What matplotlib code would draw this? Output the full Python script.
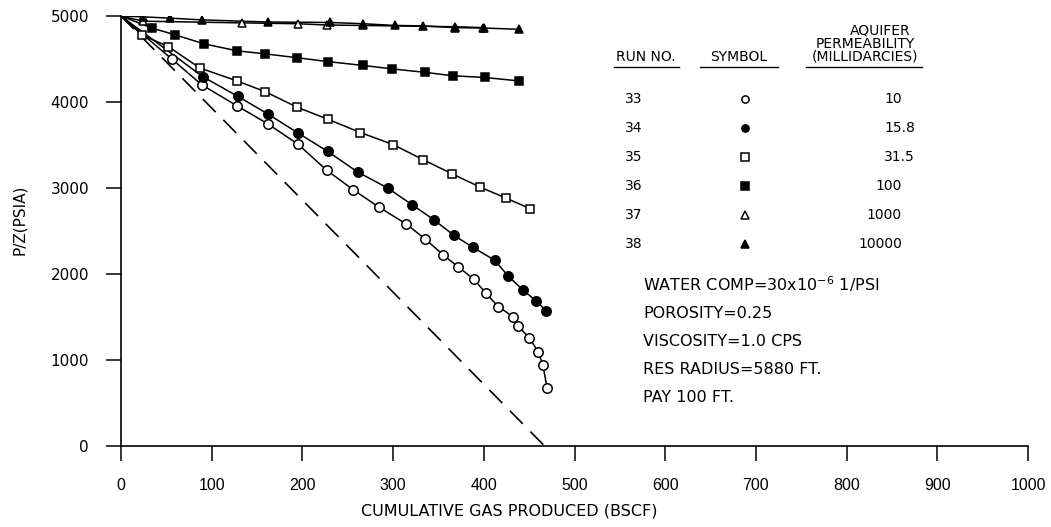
import matplotlib
matplotlib.use("Agg")
import matplotlib.pyplot as plt
from matplotlib.lines import Line2D

# digitised P/Z vs cumulative gas produced, one pair of lists per run
gp_33 = [0, 56, 89, 128, 162, 195, 227, 256, 284, 314, 335, 355, 372, 389, 402, 416, 432, 438, 450, 460, 465, 470]
pz_33 = [5000, 4500, 4200, 3955, 3745, 3510, 3205, 2980, 2780, 2585, 2410, 2225, 2080, 1940, 1780, 1620, 1505, 1390, 1260, 1095, 945, 670]

gp_34 = [0, 90, 129, 162, 195, 228, 261, 294, 321, 345, 367, 388, 412, 427, 443, 458, 469]
pz_34 = [5000, 4295, 4065, 3860, 3640, 3425, 3185, 3000, 2805, 2630, 2450, 2310, 2160, 1975, 1815, 1685, 1570]

gp_35 = [0, 23, 52, 87, 128, 159, 194, 228, 264, 300, 333, 365, 396, 424, 451]
pz_35 = [5000, 4780, 4645, 4395, 4245, 4120, 3940, 3800, 3645, 3505, 3330, 3165, 3010, 2885, 2760]

gp_36 = [0, 34, 60, 92, 128, 159, 194, 228, 267, 299, 335, 366, 401, 439]
pz_36 = [5000, 4860, 4780, 4675, 4595, 4560, 4515, 4470, 4425, 4385, 4345, 4305, 4285, 4245]

gp_37 = [0, 24, 133, 195, 227, 267, 368, 399]
pz_37 = [5000, 4940, 4920, 4910, 4895, 4890, 4875, 4865]

gp_38 = [0, 24, 54, 89, 162, 230, 267, 302, 333, 368, 400, 439]
pz_38 = [5000, 4990, 4975, 4955, 4930, 4925, 4910, 4890, 4885, 4865, 4860, 4845]

# volumetric (no water drive) line
gp_ideal = [0, 467]
pz_ideal = [5000, 0]

run_no = ["33", "34", "35", "36", "37", "38"]
perm = ["10", "15.8", "31.5", "100", "1000", "10000"]
notes = ["WATER COMP=30x10$^{-6}$ 1/PSI", "POROSITY=0.25", "VISCOSITY=1.0 CPS",
         "RES RADIUS=5880 FT.", "PAY 100 FT."]

x_ticks = [0, 100, 200, 300, 400, 500, 600, 700, 800, 900, 1000]
y_ticks = [0, 1000, 2000, 3000, 4000, 5000]

W, H = 1051, 527
fig = plt.figure(figsize=(W / 100, H / 100), dpi=100)
ax = fig.add_axes([121 / W, 1 - 446 / H, (1028 - 121) / W, (446 - 16) / H])

def fx(px):
    return px / W

def fy(py):
    return 1 - py / H

lw = 1.1
ax.plot(gp_ideal, pz_ideal, color="black", lw=1.2, dashes=(11, 6.5))

# (gp, pz, marker, filled)
runs = [
    (gp_33, pz_33, "o", False),
    (gp_34, pz_34, "o", True),
    (gp_35, pz_35, "s", False),
    (gp_36, pz_36, "s", True),
    (gp_37, pz_37, "^", False),
    (gp_38, pz_38, "^", True),
]
for gp, pz, mk, filled in runs:
    ax.plot(gp, pz, color="black", lw=lw, zorder=2)
    ms = 6.8 if mk == "o" else 6.3
    ax.plot(gp[1:], pz[1:], ls="none", marker=mk, ms=ms, mew=1.1,
            mec="black", mfc="black" if filled else "white", zorder=3)

ax.set_xlim(0, 1000)
ax.set_ylim(0, 5000)
ax.set_xticks(x_ticks)
ax.set_yticks(y_ticks)
ax.set_xticklabels([str(v) for v in x_ticks], fontname="Liberation Sans", fontsize=11.5)
ax.set_yticklabels([str(v) for v in y_ticks], fontname="DejaVu Sans", fontsize=11)
ax.tick_params(axis="y", direction="out", length=11, width=1.1, pad=12)
ax.tick_params(axis="x", direction="out", length=11, width=1.1, pad=12)
for s in ["top", "right"]:
    ax.spines[s].set_visible(False)
for s in ["left", "bottom"]:
    ax.spines[s].set_linewidth(1.2)

fig.text(fx(20), fy(220), "P/Z(PSIA)", rotation=90, ha="center", va="center",
         fontsize=11, fontname="DejaVu Sans")
fig.text(fx(509), fy(511), "CUMULATIVE GAS PRODUCED (BSCF)", ha="center", va="center",
         fontsize=11.5, fontname="DejaVu Sans")

# legend table
hdr_y = 57
fig.text(fx(646), fy(hdr_y), "RUN NO.", ha="center", va="center", fontsize=10)
fig.text(fx(739), fy(hdr_y), "SYMBOL", ha="center", va="center", fontsize=10)
fig.text(fx(865), fy(hdr_y), "(MILLIDARCIES)", ha="center", va="center", fontsize=10)
fig.text(fx(865), fy(hdr_y - 13), "PERMEABILITY", ha="center", va="center", fontsize=10)
fig.text(fx(880), fy(hdr_y - 26), "AQUIFER", ha="center", va="center", fontsize=10)
for x0, x1 in [(614, 679), (700, 778), (806, 922)]:
    fig.add_artist(Line2D([fx(x0), fx(x1)], [fy(67), fy(67)], color="black", lw=1.0))

row_y = [99, 128, 157, 186, 215, 244]
for i, (r, k) in enumerate(zip(run_no, perm)):
    y = fy(row_y[i])
    fig.text(fx(634), y, r, ha="center", va="center", fontsize=10)
    # integers right-aligned on the units digit, decimals hang past it
    x_right = 915 if "." in k else 902
    fig.text(fx(x_right), y, k, ha="right", va="center", fontsize=10)
    mk, filled = runs[i][2], runs[i][3]
    fig.add_artist(Line2D([fx(745)], [y], ls="none", marker=mk, ms=5.2, mew=1.1,
                          mec="black", mfc="black" if filled else "white"))

note_y = [284, 313, 342, 370, 398]
for t, py in zip(notes, note_y):
    fig.text(fx(643), fy(py), t, ha="left", va="center", fontsize=11.5)

fig.savefig("out.png", dpi=100)
